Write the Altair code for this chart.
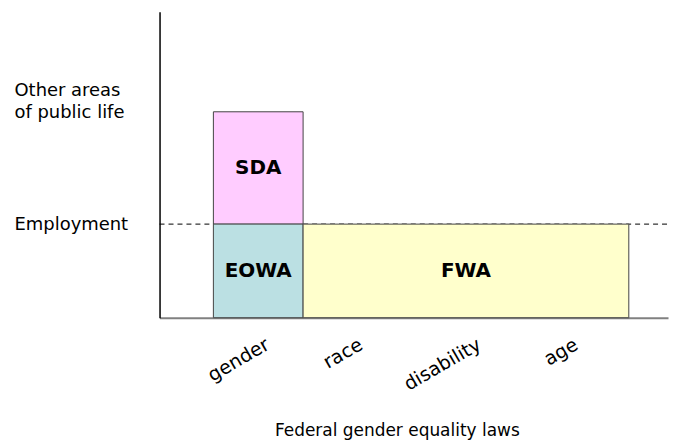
import json
import altair as alt
import pandas as pd

# ---- data ----
blocks = ["SDA", "EOWA", "FWA"]
block_x0 = [0.6, 0.6, 1.6]
block_x1 = [1.6, 1.6, 5.23]
block_y0 = [1.0, 0.0, 0.0]
block_y1 = [2.2, 1.0, 1.0]
block_colors = ["#ffccff", "#bbe0e3", "#ffffcc"]

grounds = ["gender", "race", "disability", "age"]
ground_pos = [1.2, 2.24, 3.56, 4.64]

areas = [["Employment"], ["Other areas", "of public life"]]
area_level = [1.0, 2.43]

x_max = 5.667
y_max = 3.27
FONT = "DejaVu Sans"

df = pd.DataFrame({"name": blocks, "x0": block_x0, "x1": block_x1,
                   "y0": block_y0, "y1": block_y1, "color": block_colors})
df_rule = pd.DataFrame({"y": [area_level[0]], "x0": [0.0], "x1": [x_max]})

xscale = alt.Scale(domain=[0, x_max], nice=False, zero=False)
yscale = alt.Scale(domain=[0, y_max], nice=False, zero=False)

x_label_expr = "{}[indexof({}, datum.value)]".format(json.dumps(grounds), json.dumps(ground_pos))
y_label_expr = "{}[indexof({}, datum.value)]".format(json.dumps(areas), json.dumps(area_level))

xaxis = alt.Axis(values=ground_pos, labelExpr=x_label_expr, title="Federal gender equality laws",
                 ticks=False, grid=False, domainColor="#808080", domainWidth=2,
                 labelAngle=-30, labelAlign="right", labelBaseline="middle", labelPadding=25,
                 labelFont=FONT, labelFontSize=19, labelColor="black",
                 titleFont=FONT, titleFontSize=17, titleFontWeight="normal", titleColor="black",
                 titleX=238, titleY=118, titleBaseline="alphabetic", labelOverlap=False)
yaxis = alt.Axis(values=area_level, labelExpr=y_label_expr, title=None,
                 ticks=False, grid=False, domainColor="black", domainWidth=1.5,
                 labelAlign="left", labelBaseline="middle", labelPadding=146,
                 labelFont=FONT, labelFontSize=18, labelColor="black", labelLineHeight=22,
                 labelOverlap=False)

rule = alt.Chart(df_rule).mark_rule(color="black", strokeDash=[5, 4], strokeWidth=1).encode(
    x=alt.X("x0:Q", scale=xscale, axis=xaxis), x2="x1:Q",
    y=alt.Y("y:Q", scale=yscale, axis=yaxis))

rects = alt.Chart(df).mark_rect(stroke="#444444", strokeWidth=1).encode(
    x=alt.X("x0:Q", scale=xscale), x2="x1:Q",
    y=alt.Y("y0:Q", scale=yscale), y2="y1:Q",
    color=alt.Color("color:N", scale=None))

labels = alt.Chart(df).transform_calculate(
    xc="(datum.x0 + datum.x1) / 2", yc="(datum.y0 + datum.y1) / 2"
).mark_text(font=FONT, fontSize=20, fontWeight="bold", color="black", baseline="middle").encode(
    x=alt.X("xc:Q", scale=xscale), y=alt.Y("yc:Q", scale=yscale), text="name:N")

chart = alt.layer(rule, rects, labels).properties(
    width=510, height=307,
    background="white",
    autosize=alt.AutoSizeParams(type="none"),
    padding={"left": 152, "top": 3, "right": 6, "bottom": 122},
).configure_view(strokeWidth=0, stroke="transparent")

chart.save("out.html", embed_options={"renderer": "svg", "actions": False})
